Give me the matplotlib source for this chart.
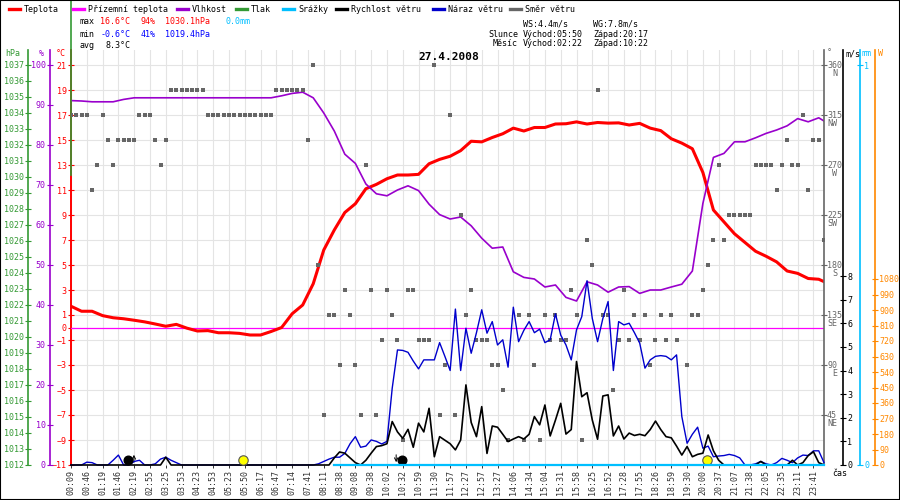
"""
Denní meteo graf 27.4.2008 - teplota, vlhkost, tlak, vítr, směr větru
"""

import numpy as np
import matplotlib
matplotlib.use('Agg')
import matplotlib.pyplot as plt
from matplotlib.lines import Line2D
from matplotlib.patches import Rectangle

plt.rcParams['font.family'] = ['DejaVu Sans Mono', 'DejaVu Sans']
plt.rcParams['font.size'] = 6

# ============================================================================
# DATA (osa x = pořadí vzorku, 144 vzorků za den)
# ============================================================================
TIME_LABELS = ['00:09', '00:46', '01:19', '01:46', '02:19', '02:55', '03:25', '03:53',
               '04:23', '04:53', '05:23', '05:50', '06:17', '06:47', '07:14', '07:41',
               '08:11', '08:38', '09:08', '09:38', '10:02', '10:32', '10:59', '11:30',
               '11:57', '12:27', '12:57', '13:27', '14:06', '14:34', '15:04', '15:31',
               '15:58', '16:25', '16:52', '17:28', '17:55', '18:26', '18:59', '19:30',
               '20:00', '20:37', '21:07', '21:38', '22:05', '22:35', '23:11', '23:41']
LABEL_STEP = 3
N_SAMPLES = 144

nan = np.nan

# teplota a vlhkost - každý druhý vzorek + poslední
TH_K = list(range(0, 143, 2)) + [143]
TEMP = [1.7, 1.3, 1.3, 0.95, 0.78, 0.7, 0.58, 0.45, 0.28, 0.1, 0.25, -0.05,
        -0.28, -0.25, -0.42, -0.42, -0.47, -0.6, -0.6, -0.32, 0.0, 1.1, 1.8, 3.5,
        6.2, 7.8, 9.2, 9.9, 11.1, 11.45, 11.9, 12.2, 12.2, 12.25, 13.1, 13.45,
        13.7, 14.15, 14.9, 14.85, 15.2, 15.5, 15.95, 15.72, 16.0, 16.0, 16.28, 16.3,
        16.45, 16.28, 16.4, 16.35, 16.37, 16.2, 16.33, 15.95, 15.75, 15.1, 14.75, 14.3,
        12.4, 9.4, 8.45, 7.5, 6.8, 6.1, 5.7, 5.25, 4.52, 4.33, 3.92, 3.86, 3.67]
HUMIDITY = [91.1, 91.0, 90.8, 90.8, 90.8, 91.4, 91.8,
            91.8, 91.8, 91.8, 91.8, 91.8, 91.8, 91.8, 91.8, 91.8, 91.8, 91.8, 91.8, 91.8,
            92.3, 92.9, 93.2, 91.8, 88.0, 83.5, 77.7, 75.4, 70.25, 67.8, 67.3, 68.75,
            69.8, 68.6, 65.2, 62.6, 61.5, 62.0, 59.8, 56.7, 54.2, 54.5, 48.3, 46.9,
            46.5, 44.5, 45.0, 41.9, 41.0, 45.8, 45.0, 43.2, 44.5, 44.6, 42.9, 43.75,
            43.75, 44.5, 45.2, 48.5, 65.4, 76.9, 77.9, 80.8, 80.8, 81.8, 82.9, 83.75,
            84.8, 86.6, 85.8, 86.8, 86.0]
GROUND_TEMP = [0.0] * len(TH_K)
# srážky - data až od vzorku 50
RAIN = [nan] * 25 + [0.0] * 48
PRESSURE_MAX = 1030.1

# vítr - každý vzorek
WIND_SPEED = [0, 0, 0, 0, 0, 0, 0, 0, 0, 0, 0, 0,
              0, 0, 0, 0, 0, 0, 0.33, 0, 0, 0, 0, 0,
              0, 0, 0, 0, 0, 0, 0, 0, 0, 0, 0, 0,
              0, 0, 0, 0, 0, 0, 0, 0, 0, 0, 0, 0,
              0, 0, 0.3, 0.55, 0.5, 0.3, 0.1, 0, 0.2, 0.5, 0.78, 0.82,
              0.9, 1.84, 1.4, 1.13, 1.51, 0.75, 1.77, 1.4, 2.4, 0.35, 1.2, 1.05,
              0.9, 0.64, 1.06, 3.39, 1.8, 1.2, 2.47, 0.49, 1.65, 1.6, 1.3, 0.99,
              1.1, 1.2, 1.1, 1.3, 2.05, 1.7, 2.54, 1.23, 1.9, 2.61, 1.31, 1.5,
              4.38, 2.89, 3.06, 1.9, 1.09, 2.92, 2.97, 1.23, 1.65, 1.1, 1.35, 1.25,
              1.3, 1.24, 1.5, 1.86, 1.5, 1.2, 1.15, 0.8, 0.42, 0.78, 0.35, 0.45,
              0.5, 1.27, 0.6, 0.2, 0, 0, 0, 0, 0, 0, 0, 0.15,
              0, 0, 0, 0, 0, 0.2, 0, 0.1, 0.4, 0.56, 0.1, 0]
WIND_GUST = [0, 0, 0, 0.12, 0.1, 0, 0, 0, 0.2, 0.42, 0, 0,
             0.15, 0.2, 0, 0, 0.05, 0.25, 0.33, 0.2, 0.1, 0, 0, 0,
             0, 0, 0, 0, 0, 0, 0, 0, 0, 0, 0, 0,
             0, 0, 0, 0, 0, 0, 0, 0, 0, 0, 0, 0.05,
             0.15, 0.25, 0.33, 0.33, 0.49, 0.9, 1.2, 0.75, 0.8, 1.06, 1.0, 0.89,
             1.0, 3.25, 4.87, 4.85, 4.77, 4.4, 4.07, 4.45, 4.45, 4.45, 5.18, 4.6,
             4.0, 6.6, 4.0, 5.79, 4.73, 5.6, 6.57, 5.58, 6.07, 5.08, 5.3, 4.14,
             6.68, 5.22, 5.7, 6.07, 5.6, 5.75, 5.18, 5.3, 6.4, 5.5, 5.08, 4.45,
             5.72, 6.28, 7.8, 6.2, 5.22, 6.2, 6.92, 4.0, 6.07, 5.93, 6.0, 5.6,
             5.16, 4.1, 4.45, 4.6, 4.63, 4.6, 4.45, 4.66, 2.05, 0.92, 1.3, 1.6,
             0.71, 0.8, 0.35, 0.38, 0.4, 0.45, 0.4, 0.3, 0, 0, 0.05, 0.15,
             0.05, 0, 0.1, 0.28, 0.2, 0.1, 0.3, 0.42, 0.4, 0.6, 0.6, 0.1]
WIND_DIR = [315, 315, 315, 315, 247.5, 270, 315, 292.5, 270, 292.5, 292.5, 292.5,
            292.5, 315, 315, 315, 292.5, 270, 292.5, 337.5, 337.5, 337.5, 337.5, 337.5,
            337.5, 337.5, 315, 315, 315, 315, 315, 315, 315, 315, 315, 315,
            315, 315, 315, 337.5, 337.5, 337.5, 337.5, 337.5, 337.5, 292.5, 360, 180,
            45, 135, 135, 90, 157.5, 135, 90, 45, 270, 157.5, 45, 112.5,
            157.5, 135, 112.5, 22.5, 157.5, 157.5, 112.5, 112.5, 112.5, 360, 45, 90,
            315, 45, 225, 135, 157.5, 112.5, 112.5, 112.5, 90, 90, 67.5, 22.5,
            nan, 135, 22.5, 135, 90, 22.5, 135, 112.5, 135, 112.5, 112.5, 157.5,
            135, 22.5, 202.5, 180, 337.5, 135, 135, 67.5, 112.5, 157.5, 112.5, 135,
            112.5, 135, 90, 112.5, 135, 112.5, 135, 112.5, nan, 90, 135, 135,
            157.5, 180, 202.5, 270, 202.5, 225, 225, 225, 225, 225, 270, 270,
            270, 270, 247.5, 270, 292.5, 270, 270, 315, 247.5, 292.5, 292.5, 202.5]

# východ / západ (pozice ve vzorcích)
MOON_RISE_K = 10.8
SUN_RISE_K = 32.7
MOON_SET_K = 62.9
SUN_SET_K = 120.8

DIR_TICKS = [360, 315, 270, 225, 180, 135, 90, 45]
DIR_NAMES = ['N', 'NW', 'W', 'SW', 'S', 'SE', 'E', 'NE']

# ============================================================================
# BARVY
# ============================================================================
C_TEMP = '#ff0000'
C_GROUND = '#ff00ff'
C_HUM = '#9900cc'
C_PRES = '#339933'
C_RAIN = '#00bfff'
C_WS = '#000000'
C_WG = '#0000cc'
C_DIR = '#666666'
C_SOLAR = '#ff8800'
C_GRID = '#e4e4e4'


def fx(x):
    return x / 900.0


def fy(y):
    return 1 - y / 500.0


def pt(px):
    return px * 72.0 / 100.0


fig = plt.figure(figsize=(9, 5), dpi=100)
fig.patch.set_facecolor('white')

ax = fig.add_axes([fx(71), 35 / 500, 753 / 900, 415 / 500])
K = np.arange(N_SAMPLES)
ax.set_xlim(0, N_SAMPLES - 1)
ax.set_ylim(-11, -11 + 415 / 12.5)

# mřížka
ax.set_xticks(K[::LABEL_STEP])
ax.set_xticklabels(TIME_LABELS)
t_ticks = list(range(-11, 22, 2))
ax.set_yticks(sorted(t_ticks + [0]))
for t in t_ticks:
    ax.axhline(t, color=C_GRID, lw=0.8, zorder=0)
for k in K[::LABEL_STEP]:
    ax.axvline(k, color=C_GRID, lw=0.8, zorder=0)

for side in ['top', 'right', 'bottom']:
    ax.spines[side].set_visible(False)
ax.spines['left'].set_color(C_TEMP)
ax.spines['left'].set_linewidth(1.4)
ax.tick_params(axis='y', colors=C_TEMP, direction='inout', length=4, width=0.8, pad=1, labelsize=6)
ax.tick_params(axis='x', colors='#333333', length=2.5, width=0.7, pad=1.2,
               labelrotation=90, labelsize=6)


def make_twin(side, offset_px, color, lim):
    t = ax.twinx()
    for s in t.spines.values():
        s.set_visible(False)
    sp = t.spines[side]
    sp.set_visible(True)
    sp.set_position(('outward', pt(offset_px)))
    sp.set_color(color)
    sp.set_linewidth(1.2)
    if side == 'left':
        t.yaxis.tick_left()
    else:
        t.yaxis.tick_right()
    t.tick_params(axis='y', colors=color, direction='inout', length=4, width=0.8, pad=1, labelsize=6)
    t.set_ylim(*lim)
    return t


ax_h = make_twin('left', 21, C_HUM, (0, 415 / 4))
ax_h.set_yticks(range(0, 101, 10))
ax_p = make_twin('left', 43, C_PRES, (1012, 1012 + 415 / 16))
ax_p.set_yticks(range(1012, 1038))
ax_d = make_twin('right', 0, C_DIR, (0, 415 * 0.9))
ax_d.set_yticks(DIR_TICKS)
ax_d.tick_params(axis='y', labelright=False)
ax_w = make_twin('right', 19, C_WS, (0, 415 / 23.625))
ax_w.set_yticks(range(0, 9))
ax_r = make_twin('right', 36, C_RAIN, (0, 415 / 400))
ax_r.set_yticks([0, 1])
ax_s = make_twin('right', 51, C_SOLAR, (0, 1080 * 415 / 186))
ax_s.set_yticks(range(0, 1081, 90))

# popisky směru větru
for d, name in zip(DIR_TICKS, DIR_NAMES):
    ax_d.annotate(str(d), xy=(1, d), xycoords=('axes fraction', 'data'),
                  xytext=(pt(3), 0), textcoords='offset points',
                  va='center', ha='left', color=C_DIR, fontsize=6)
    ax_d.annotate(name, xy=(1, d), xycoords=('axes fraction', 'data'),
                  xytext=(pt(13), -pt(8.5)), textcoords='offset points',
                  va='center', ha='right', color=C_DIR, fontsize=6)

# ============================================================================
# DATA SERIES
# ============================================================================
ax_d.plot(K, WIND_DIR, 's', ms=3.5, color=C_DIR, mew=0, zorder=2)
ax_r.plot(TH_K, RAIN, color=C_RAIN, lw=1.6, clip_on=False, zorder=3)
ax_w.plot(K, WIND_GUST, color=C_WG, lw=1.0, clip_on=False, zorder=4)
ax_w.plot(K, WIND_SPEED, color=C_WS, lw=1.2, clip_on=False, zorder=5)
ax.plot(TH_K, GROUND_TEMP, color=C_GROUND, lw=0.9, zorder=3)
ax.plot(TH_K, TEMP, color=C_TEMP, lw=2.2, zorder=4)
ax_h.plot(TH_K, HUMIDITY, color=C_HUM, lw=1.2, zorder=4)
ax_p.plot([0, 0], [PRESSURE_MAX, 1012 + 465 / 16], color=C_PRES, lw=1.2, clip_on=False, zorder=6)

# slunce a měsíc
ev_y = 0.21
ax_w.plot([SUN_RISE_K, SUN_SET_K], [ev_y, ev_y], 'o', ms=6.8, mfc='#ffff00', mec='#555555',
          mew=0.8, ls='none', clip_on=False, zorder=7)
ax_w.plot([MOON_RISE_K, MOON_SET_K], [ev_y, ev_y], 'o', ms=6.2, mfc='black', mec='black',
          ls='none', clip_on=False, zorder=7)
ax_w.annotate('', xy=(MOON_RISE_K + 1.15, 0.55), xytext=(MOON_RISE_K + 1.15, 0.0),
              arrowprops=dict(arrowstyle='->', lw=0.7, color='black', mutation_scale=6))
ax_w.annotate('', xy=(MOON_SET_K - 1.15, 0.0), xytext=(MOON_SET_K - 1.15, 0.55),
              arrowprops=dict(arrowstyle='->', lw=0.7, color='black', mutation_scale=6))

# ============================================================================
# TEXTY
# ============================================================================
legend_items = [('Teplota', C_TEMP, 9), ('Přízemní teplota', C_GROUND, 73),
                ('Vlhkost', C_HUM, 177), ('Tlak', C_PRES, 236), ('Srážky', C_RAIN, 283),
                ('Rychlost větru', C_WS, 336), ('Náraz větru', C_WG, 433),
                ('Směr větru', C_DIR, 510)]
for name, color, x0 in legend_items:
    fig.add_artist(Line2D([fx(x0), fx(x0 + 11)], [fy(9), fy(9)], color=color, lw=2.4))
    fig.text(fx(x0 + 15), fy(9), name, va='center', ha='left', color='black')


def mono(x0, y, col, s, color='black'):
    fig.text(fx(x0 + 5.02 * col), fy(y), s, va='center', ha='left', color=color)


mono(80, 22, 0, 'max')
mono(80, 22, 4, '16.6°C', C_TEMP)
mono(80, 22, 12, '94%', C_TEMP)
mono(80, 22, 17, '1030.1hPa', C_TEMP)
mono(80, 22, 29, '0.0mm', C_RAIN)
mono(80, 34, 0, 'min')
mono(80, 34, 4, '-0.6°C', '#0000ff')
mono(80, 34, 12, '41%', '#0000ff')
mono(80, 34, 17, '1019.4hPa', '#0000ff')
mono(80, 45, 0, 'avg')
mono(80, 45, 5, '8.3°C')

mono(488, 24, 7, 'WS:4.4m/s')
mono(488, 24, 21, 'WG:7.8m/s')
mono(488, 34, 0, 'Slunce')
mono(488, 34, 7, 'Východ:05:50')
mono(488, 34, 21, 'Západ:20:17')
mono(488, 44, 1, 'Měsíc')
mono(488, 44, 7, 'Východ:02:22')
mono(488, 44, 21, 'Západ:10:22')

fig.text(fx(449), fy(57), '27.4.2008', ha='center', va='center', fontsize=8,
         fontweight='bold', color='black')

fig.text(fx(5), fy(54), 'hPa', color=C_PRES, va='center', ha='left')
fig.text(fx(39), fy(54), '%', color=C_HUM, va='center', ha='left')
fig.text(fx(56), fy(54), '°C', color=C_TEMP, va='center', ha='left')
fig.text(fx(827), fy(53), '°', color=C_DIR, va='center', ha='left')
fig.text(fx(845), fy(54), 'm/s', color=C_WS, va='center', ha='left')
fig.text(fx(862), fy(54), 'mm', color=C_RAIN, va='center', ha='left')
fig.text(fx(878), fy(54), 'W', color=C_SOLAR, va='center', ha='left')
fig.text(fx(832), fy(474), 'čas', color='black', va='center', ha='left')

fig.add_artist(Rectangle((0, 0), 1, 1, transform=fig.transFigure, fill=False,
                         edgecolor='black', lw=1.5))

fig.savefig('out.png', dpi=100)
